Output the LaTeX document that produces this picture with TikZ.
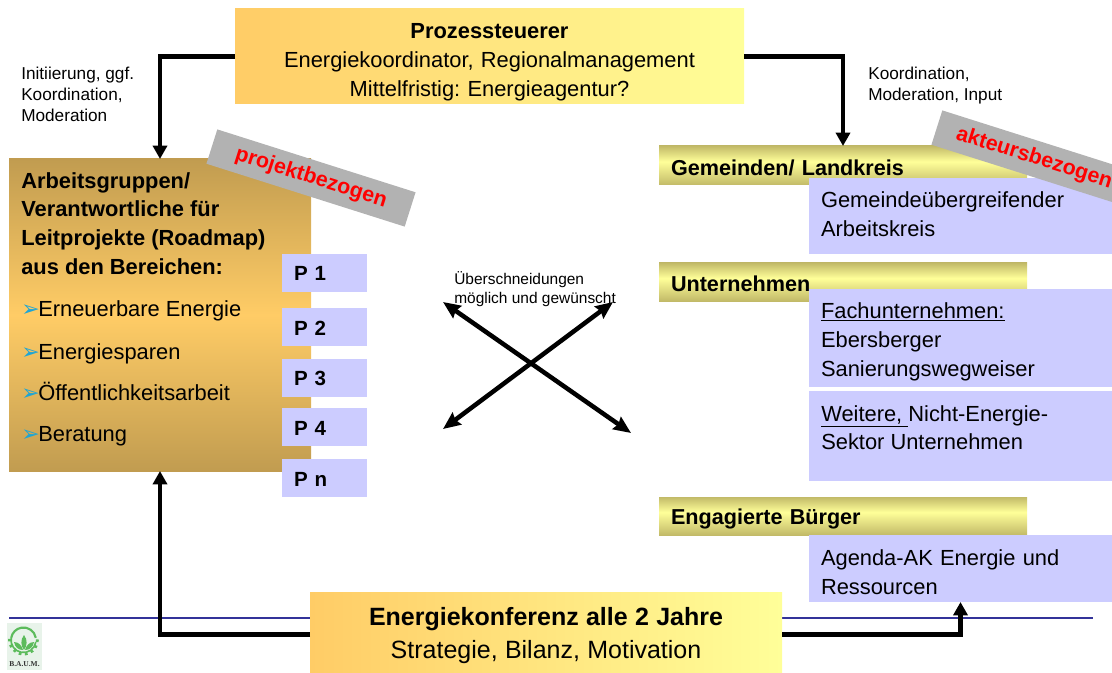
\documentclass[tikz,border=0pt]{standalone}
\usepackage{fontspec}
\setmainfont{Liberation Sans}
\newfontfamily\dejavu{DejaVu Sans}
\newfontfamily\logoserif{Liberation Serif}
\usetikzlibrary{arrows.meta}
\frenchspacing
\definecolor{lilac}{HTML}{CCCCFF}
\definecolor{grayband}{HTML}{B2B2B2}
\definecolor{orangeL}{HTML}{FFCC66}
\definecolor{yellowL}{HTML}{FFFF99}
\definecolor{brownT}{HTML}{C19C50}
\definecolor{oliveT}{HTML}{C2BA68}
\definecolor{rulecol}{HTML}{333399}
\definecolor{bulletcol}{HTML}{1CA5D6}
\definecolor{logogreen}{HTML}{5CBB5C}
\definecolor{logobg}{HTML}{E8F3EA}
\pgfdeclareverticalshading{brownshade}{100bp}{color(0bp)=(brownT); color(25bp)=(brownT); color(50bp)=(orangeL); color(75bp)=(brownT); color(100bp)=(brownT)}
\pgfdeclareverticalshading{barshade}{100bp}{color(0bp)=(oliveT); color(25bp)=(oliveT); color(55bp)=(yellowL); color(75bp)=(oliveT); color(100bp)=(oliveT)}
\newcommand{\bx}[7][]{\node[boxbase,#1,text width={(#5-#3)*0.75pt-18pt},minimum height={(#6-#4)*0.75pt}] (#2) at ({(#3+#5)/2},{(#4+#6)/2}) {#7};}
\newcommand{\dn}[1]{\rule{0pt}{#1}}
\newcommand{\up}[1]{\rule[-#1]{0pt}{#1}}
\tikzset{
  x=0.75pt,y=-0.75pt,
  boxbase/.style={inner xsep=9pt,inner ysep=0pt,outer sep=0pt,align=left,font=\fontsize{16.4}{21.6}\selectfont},
  topband/.style={left color=orangeL,right color=yellowL,align=center},
  bar/.style={shading=barshade,font=\fontsize{16.2}{20}\bfseries\selectfont},
  lilacbox/.style={fill=lilac},
  pbox/.style={fill=lilac,font=\fontsize{15.4}{20}\bfseries\selectfont},
  brownbox/.style={shading=brownshade},
  band/.style={fill=grayband,minimum width=156pt,minimum height=27pt,inner sep=0pt,rotate=-17.6,text=red,font=\fontsize{16}{18}\bfseries\selectfont},
  small/.style={inner sep=0pt,align=left,anchor=north west,font=\fontsize{12.9}{15.7}\selectfont},
  smaller/.style={inner sep=0pt,align=left,anchor=north west,font=\fontsize{11.6}{14.4}\selectfont},
  bullet/.style={inner sep=0pt,anchor=base west,font=\fontsize{16.4}{20}\selectfont},
  heavy/.style={line width=3.6pt,-{Triangle[width=10.5pt,length=10pt]}},
  cross/.style={line width=3.4pt,{Stealth[width=11pt,length=13pt,inset=1.5pt]}-{Stealth[width=11pt,length=13pt,inset=1.5pt]}},
}
\newcommand{\arr}{\makebox[12.75pt][l]{{\dejavu\color{bulletcol}\fontsize{16.5}{16}\selectfont ➢}}}
\begin{document}
\begin{tikzpicture}
\useasboundingbox (0,0) rectangle (1112,673);
% rule
\coordinate (ruleL) at (9,618);
\coordinate (ruleR) at (1093,618);
\draw[rulecol,line width=0.8pt] (ruleL) -- (ruleR);
% top box
\bx[topband]{top}{235}{9}{744}{104}{\dn{19.5pt}{\bfseries Prozessteuerer}\\Energiekoordinator, Regionalmanagement\\Mittelfristig: Energieagentur?}
% left box
\bx[brownbox]{left}{9}{159}{311}{471}{}
\node[inner sep=0pt,anchor=north west,align=left,font=\fontsize{16.4}{21.6}\bfseries\selectfont] (lefthead) at (21,172) {Arbeitsgruppen/\\Verantwortliche für\\Leitprojekte (Roadmap)\\aus den Bereichen:};
\node[bullet] (b1) at (21,316) {\arr Erneuerbare Energie};
\node[bullet] (b2) at (21,359) {\arr Energiesparen};
\node[bullet] (b3) at (21,400) {\arr Öffentlichkeitsarbeit};
\node[bullet] (b4) at (21,441.5) {\arr Beratung};
% project boxes
\bx[pbox]{p1}{282}{254}{367}{292}{\dn{12pt}P 1}
\bx[pbox]{p2}{282}{308}{367}{346}{\dn{12pt}P 2}
\bx[pbox]{p3}{282}{359}{367}{397}{\dn{12pt}P 3}
\bx[pbox]{p4}{282}{408}{367}{446}{\dn{12pt}P 4}
\bx[pbox]{pn}{282}{459}{367}{497}{\dn{12pt}P n}
\node[band] (bandL) at (311,178) {projektbezogen};
% right bars
\bx[bar]{gem}{659}{146}{1027}{185}{\dn{15.5pt}Gemeinden/ Landkreis}
\bx[bar]{unt}{659}{263}{1027}{301}{\dn{14.5pt}Unternehmen}
\bx[bar]{eng}{659}{497}{1027}{535}{\dn{15.5pt}Engagierte Bürger}
% lilac boxes
\bx[lilacbox]{gk}{809}{178}{1112}{254}{Gemeindeübergreifender\\Arbeitskreis\up{3pt}}
\bx[lilacbox]{fach}{809}{289}{1112}{387}{\dn{17.5pt}\underline{Fachunternehmen:}\\Ebersberger\\Sanierungswegweiser}
\bx[lilacbox]{wei}{809}{391}{1112}{481}{}
\node[inner sep=0pt,anchor=north west,align=left,font=\fontsize{16.4}{21.6}\selectfont] (weitxt) at (821,405) {\underline{Weitere,\ }Nicht-Energie-\\Sektor Unternehmen};
\bx[lilacbox]{age}{809}{535}{1112}{602}{\dn{17pt}Agenda-AK Energie und\\Ressourcen}
\node[band] (bandR) at (1036,159) {\kern-3pt akteursbezogen};
% conference
\bx[topband]{conf}{310}{592}{782}{673}{\dn{18pt}{\fontsize{18.75}{25}\bfseries\selectfont Energiekonferenz alle 2 Jahre}\\[3.5pt]{\fontsize{18.75}{25}\selectfont Strategie, Bilanz, Motivation}}
% small labels
\node[small] (lab1) at (21,67) {Initiierung, ggf.\\Koordination,\\Moderation};
\node[small] (lab2) at (868,67) {Koordination,\\Moderation, Input};
\node[smaller] (lab3) at (454,271) {Überschneidungen\\möglich und gewünscht};
% connectors
\draw[heavy] (top.west) -| (left.north);
\draw[heavy] (top.east) -| (gem.north);
\draw[heavy] ([yshift=-1.5pt]conf.west) -| (left.south);
\draw[heavy] ([yshift=-1.5pt]conf.east) -| (age.south);
\coordinate (c1) at (443,302);
\coordinate (c2) at (631,433);
\coordinate (c3) at (613,302);
\coordinate (c4) at (443,429);
\draw[cross] (c1) -- (c2);
\draw[cross] (c3) -- (c4);
% logo
\fill[logobg] (7,623) rectangle (42,670);
\draw[logogreen,line width=1.6pt] (23.5,640) ++(-10:12.5) arc (-10:-170:12.5);
\draw[logogreen,line width=1.2pt] (23.5,640) ++(-170:12.5) arc (-170:-350:12.5);
\draw[logogreen,line width=2.2pt,dash pattern=on 2pt off 2.6pt] (23.5,640) ++(-175:14) arc (-175:-365:14);
\fill[logogreen] (24,635) .. controls (28,640) and (27,646) .. (24,650) .. controls (21,646) and (20,640) .. (24,635);
\fill[logogreen] (14,642) .. controls (19,642) and (22,646) .. (23,650) .. controls (18,650) and (15,647) .. (14,642);
\fill[logogreen] (34,642) .. controls (29,642) and (26,646) .. (25,650) .. controls (30,650) and (33,647) .. (34,642);
\node[inner sep=0pt,font=\logoserif\fontsize{5.6}{6}\bfseries\selectfont,text=black!80] (logotxt) at (24.5,664) {B.A.U.M.};
\end{tikzpicture}
\end{document}
